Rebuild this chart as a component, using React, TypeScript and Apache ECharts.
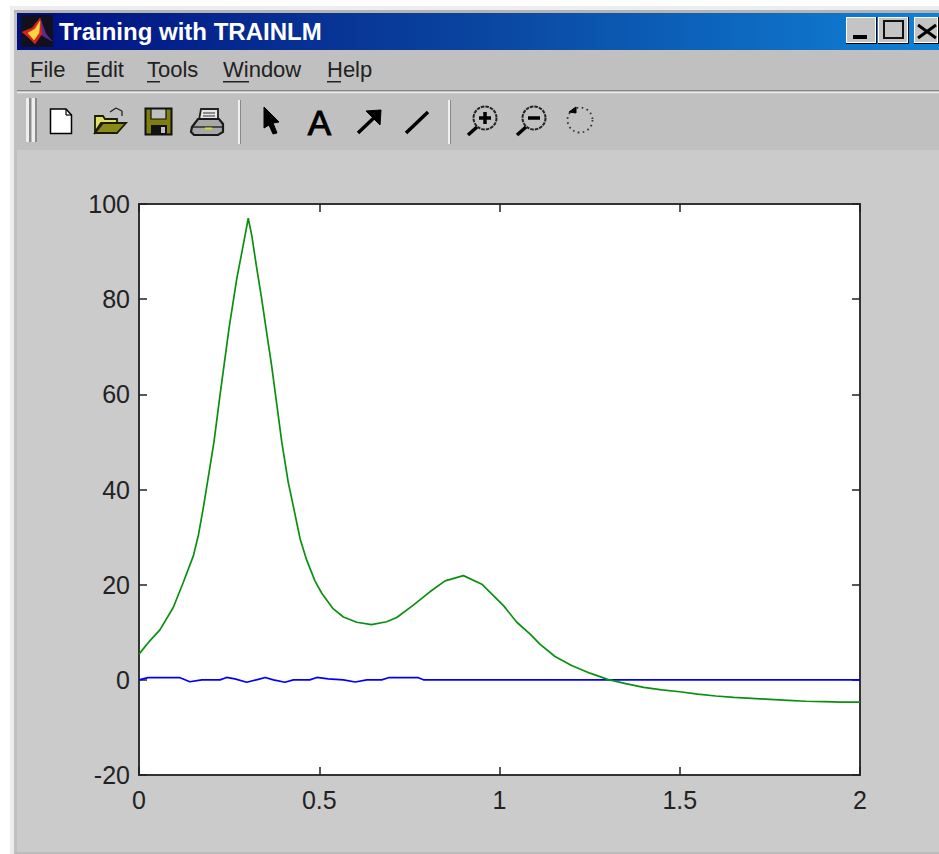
import React, { useEffect, useRef } from "react";
import * as echarts from "echarts";

const WINDOW_TITLE = "Training with TRAINLM";
const MENU_ITEMS = ["File", "Edit", "Tools", "Window", "Help"];
const GREEN_X = [0, 0.03, 0.058, 0.095, 0.123, 0.151, 0.165, 0.178, 0.192, 0.208, 0.225, 0.25, 0.271, 0.294, 0.303, 0.313, 0.326, 0.34, 0.354, 0.368, 0.382, 0.396, 0.414, 0.428, 0.447, 0.465, 0.488, 0.507, 0.539, 0.567, 0.604, 0.645, 0.687, 0.715, 0.761, 0.807, 0.849, 0.9, 0.951, 1.011, 1.048, 1.085, 1.112, 1.154, 1.2, 1.251, 1.3, 1.35, 1.4, 1.45, 1.5, 1.55, 1.6, 1.65, 1.7, 1.75, 1.8, 1.85, 1.9, 1.95, 2];
const GREEN_VALUES = [5.4, 8.2, 10.5, 15.2, 20.5, 26.1, 30.5, 36, 42.5, 50, 60, 74, 84.2, 93.3, 97, 93.3, 86.8, 80.2, 73, 66, 58, 50, 41.5, 36.5, 29.6, 25.2, 20.8, 18.2, 14.9, 13.2, 12.1, 11.6, 12.2, 13.1, 15.7, 18.5, 20.8, 21.9, 20.1, 15.6, 12.1, 9.6, 7.5, 4.9, 3.0, 1.4, 0.1, -0.8, -1.6, -2.1, -2.5, -3, -3.4, -3.7, -3.9, -4.1, -4.3, -4.5, -4.6, -4.7, -4.7];
const BLUE_X = [0, 0.025, 0.114, 0.141, 0.174, 0.225, 0.243, 0.266, 0.299, 0.331, 0.35, 0.373, 0.405, 0.428, 0.474, 0.493, 0.525, 0.567, 0.6, 0.632, 0.673, 0.692, 0.775, 0.789, 2];
const BLUE_VALUES = [0, 0.45, 0.45, -0.4, 0, 0, 0.5, 0.2, -0.5, 0.1, 0.5, 0, -0.5, 0, 0, 0.5, 0.2, 0, -0.45, 0, 0, 0.45, 0.45, 0, 0];

const pairs = (xs: number[], ys: number[]) => xs.map((x, i) => [x, ys[i]]);
const FONT = '"Liberation Sans", Arial, sans-serif';
const MENU_X = [30, 86, 147, 223, 327];
const MENU_UNDERLINE = [11, 13, 13, 26, 14];

const rect = (x: number, y: number, width: number, height: number, fill: any, extra: any = {}) => ({
  type: "rect", shape: { x, y, width, height }, style: { fill, ...extra }, silent: true,
});
const line = (x1: number, y1: number, x2: number, y2: number, stroke: string, lineWidth = 1.5, extra: any = {}) => ({
  type: "line", shape: { x1, y1, x2, y2 }, style: { stroke, lineWidth, ...extra }, silent: true,
});
const poly = (points: number[][], fill: any, stroke: string = "#000", lineWidth = 1.5) => ({
  type: "polygon", shape: { points }, style: { fill, stroke, lineWidth }, silent: true,
});
const circle = (cx: number, cy: number, r: number, fill: any, stroke: string, lineWidth = 1.5, extra: any = {}) => ({
  type: "circle", shape: { cx, cy, r }, style: { fill, stroke, lineWidth, ...extra }, silent: true,
});

function chromeElements() {
  const els: any[] = [];
  // page margin and window frame
  els.push(rect(0, 0, 939, 6, "#ffffff"));
  els.push(rect(0, 0, 10, 854, "#ffffff"));
  els.push(rect(10, 6, 929, 4, "#ededed"));
  els.push(rect(10, 6, 4, 848, "#ededed"));
  els.push(rect(14, 10, 925, 3, "#b4b4b4"));
  els.push(rect(14, 13, 3, 841, "#c0c0c0"));
  els.push(rect(14, 852, 925, 2, "#bcbcbc"));
  // title bar
  els.push(rect(17, 13, 922, 37, new echarts.graphic.LinearGradient(0, 0, 1, 0, [
    { offset: 0, color: "#000f80" },
    { offset: 0.5, color: "#0a45a0" },
    { offset: 1, color: "#0f82d6" },
  ])));
  els.push(rect(21, 15, 32, 32, "#11111e"));
  els.push(poly([[40, 18], [46, 34], [52, 41], [43, 36], [37, 30]], "#5a2a90", "#5a2a90", 0.5));
  els.push(poly([[22, 32], [32, 28], [40, 18], [42, 34], [35, 44], [28, 37]], "#d8201c", "#d8201c", 0.5));
  els.push(poly([[28, 33], [35, 29], [40, 21], [39, 33], [34, 40]], "#f4d83e", "#f4d83e", 0.5));
  els.push({ type: "text", x: 59, y: 31, silent: true, style: { text: WINDOW_TITLE, fill: "#ffffff", font: `bold 24px ${FONT}`, textVerticalAlign: "middle" } });
  // window buttons
  [[846, 31], [878, 31], [914, 25]].forEach(([x, w]) => {
    els.push(rect(x, 17, w, 27, "#000000"));
    els.push(rect(x, 17, w - 1, 26, "#ffffff"));
    els.push(rect(x + 1, 18, w - 3, 24, "#c4c4c4"));
  });
  els.push(rect(853, 35, 14, 4, "#000"));
  els.push(rect(884, 21, 19, 17, "none", { stroke: "#111", lineWidth: 2 }));
  els.push(line(918, 25, 936, 38, "#000", 3));
  els.push(line(936, 25, 918, 38, "#000", 3));
  // menu bar
  els.push(rect(14, 50, 925, 40, "#c0c0c0"));
  MENU_ITEMS.forEach((m, i) => {
    els.push({ type: "text", x: MENU_X[i], y: 69, silent: true, style: { text: m, fill: "#222222", font: `22px ${FONT}`, textVerticalAlign: "middle" } });
    els.push(rect(MENU_X[i], 81, MENU_UNDERLINE[i], 1.5, "#222"));
  });
  els.push(rect(17, 90, 922, 1.5, "#858585"));
  els.push(rect(17, 91.5, 922, 2, "#e8e8e8"));
  // toolbar
  els.push(rect(14, 93.5, 925, 56.5, "#c0c0c0"));
  els.push(rect(26, 98, 3, 44, "#eeeeee"), rect(29, 98, 2, 44, "#8a8a8a"), rect(32, 98, 3, 44, "#eeeeee"), rect(35, 98, 2, 44, "#8a8a8a"));
  els.push(rect(238, 100, 2, 44, "#f0f0f0"), rect(240, 100, 1, 44, "#8a8a8a"));
  els.push(rect(448, 100, 2, 44, "#f0f0f0"), rect(450, 100, 1, 44, "#8a8a8a"));
  // new file
  els.push(poly([[50.5, 109], [66, 109], [71.5, 115], [71.5, 133.5], [50.5, 133.5]], "#ffffff"));
  els.push(line(66, 109, 66, 115, "#000", 1.2), line(66, 115, 71.5, 115, "#000", 1.2));
  // open
  els.push(poly([[95, 132], [95, 116], [103, 116], [105, 119], [117, 119], [117, 123], [101, 123]], "#e0e060", "#1c1c00", 1.8));
  els.push(poly([[95, 133], [103, 123], [126, 123], [117, 133]], "#8a8a18", "#1c1c00", 1.8));
  els.push(line(110, 112, 116, 108, "#222", 1.3), line(116, 108, 122, 111, "#222", 1.3), line(122, 111, 122, 116, "#222", 1.3));
  // save
  els.push(rect(145.5, 108.5, 26, 26, "#7f7f10", { stroke: "#111", lineWidth: 2 }));
  els.push(rect(151, 109, 15, 10, "#c0c0c0", { stroke: "#111", lineWidth: 1.2 }));
  els.push(rect(151, 125, 16, 9, "#111"));
  els.push(rect(161, 127, 4, 6, "#c0c0c0"));
  // print
  els.push(poly([[199, 120], [201, 109], [218, 109], [218, 120]], "#e6e6e6", "#222", 1.8));
  els.push(line(203, 113, 215, 113, "#333", 1), line(203, 116, 215, 116, "#333", 1));
  els.push(poly([[192, 127], [198, 119], [219, 119], [223, 124], [223, 132], [218, 135], [194, 135], [191, 132]], "#a8a8a8", "#1a1a1a", 2.2));
  els.push(line(192, 127, 222, 127, "#222", 1.4));
  els.push(rect(205, 127.5, 7, 2, "#d8d820"));
  // arrow cursor
  els.push(poly([[264, 107], [279, 122], [273, 123], [277, 133], [273, 134], [269, 125], [264, 128]], "#000", "#000", 1));
  // text tool
  els.push({ type: "text", x: 319.5, y: 122, silent: true, style: { text: "A", fill: "#000", stroke: "#000", lineWidth: 1, font: `35px ${FONT}`, textAlign: "center", textVerticalAlign: "middle" } });
  // arrow tool
  els.push(line(358, 133, 379, 113, "#000", 3.5));
  els.push(poly([[366, 111], [381, 110], [380, 125]], "#000", "#000", 1));
  // line tool
  els.push(line(406, 133, 428, 112, "#000", 3.5));
  // zoom in and zoom out
  [485, 534].forEach((cx, i) => {
    els.push(circle(cx, 118, 11.5, "none", "#222", 2, { lineDash: [3.5, 1] }));
    els.push(line(cx - 8, 127, cx - 17, 135, "#000", 3.5));
    els.push(line(cx - 6, 118, cx + 6, 118, "#000", 3.5));
    if (i === 0) els.push(line(cx, 112, cx, 124, "#000", 3.5));
  });
  // rotate
  els.push(circle(580, 120, 12.5, "none", "#333", 1.8, { lineDash: [1.6, 3.4] }));
  els.push(poly([[569, 112], [576, 107], [576, 113]], "#000", "#000", 1));
  return els;
}

export default function App() {
  const ref = useRef<HTMLDivElement>(null);
  useEffect(() => {
    document.body.style.margin = "0";
    document.body.style.overflow = "hidden";
    const chart = echarts.init(ref.current!, undefined, { renderer: "svg" });
    const tickStyle = { show: true, inside: true, length: 8, lineStyle: { color: "#222", width: 1.5 } };
    const axisLine = { show: true, onZero: false, lineStyle: { color: "#333", width: 2 } };
    const labelStyle = { color: "#222", fontFamily: FONT, fontSize: 25 };
    chart.setOption({
      animation: false,
      backgroundColor: "#cbcbcb",
      grid: { left: 139, top: 204, width: 721, height: 571, show: true, backgroundColor: "#ffffff", borderWidth: 0, containLabel: false },
      xAxis: [
        { type: "value", position: "bottom", min: 0, max: 2, interval: 0.5, splitLine: { show: false }, axisLine, axisTick: tickStyle, axisLabel: { ...labelStyle, margin: 12, hideOverlap: false, showMinLabel: true, showMaxLabel: true } },
        { type: "value", position: "top", min: 0, max: 2, interval: 0.5, splitLine: { show: false }, axisLine, axisTick: tickStyle, axisLabel: { show: false } },
      ],
      yAxis: [
        { type: "value", position: "left", min: -20, max: 100, interval: 20, splitLine: { show: false }, axisLine, axisTick: tickStyle, axisLabel: { ...labelStyle, margin: 9, hideOverlap: false, showMinLabel: true, showMaxLabel: true } },
        { type: "value", position: "right", min: -20, max: 100, interval: 20, splitLine: { show: false }, axisLine, axisTick: tickStyle, axisLabel: { show: false } },
      ],
      series: [
        { type: "line", name: "blue", data: pairs(BLUE_X, BLUE_VALUES), showSymbol: false, smooth: false, lineStyle: { color: "#0000ff", width: 1.7 } },
        { type: "line", name: "green", data: pairs(GREEN_X, GREEN_VALUES), showSymbol: false, smooth: false, lineStyle: { color: "#0a900f", width: 1.7 } },
      ],
      graphic: { elements: chromeElements() },
    });
    return () => chart.dispose();
  }, []);
  return <div ref={ref} style={{ width: 939, height: 854, position: "absolute", left: 0, top: 0 }} />;
}
